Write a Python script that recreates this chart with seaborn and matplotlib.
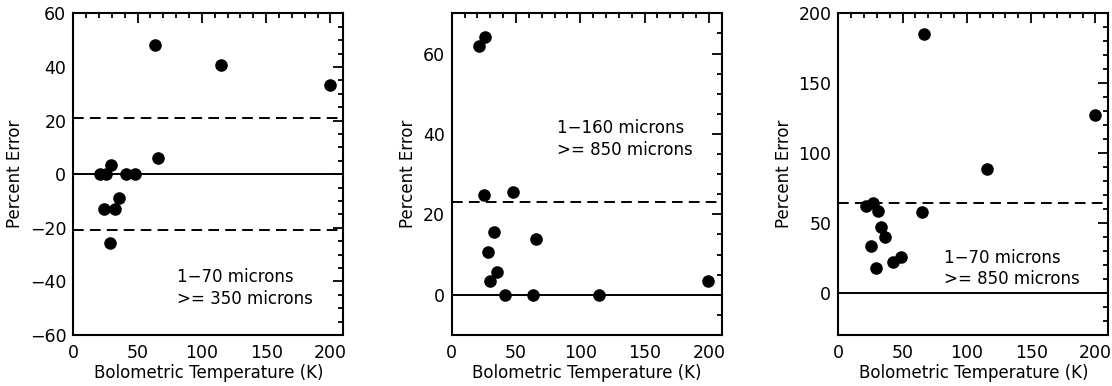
import numpy as np
import pandas as pd
import matplotlib
matplotlib.use("Agg")
import matplotlib.pyplot as plt
import seaborn as sns
from matplotlib.ticker import MultipleLocator

sns.set_theme(style="white")
plt.rcParams['font.family'] = ['DejaVu Sans']

# Panel 1: 1-70 microns, >= 350 microns
tbol_1 = [20.9, 25.6, 24.0, 29.3, 28.2, 32.7, 35.6, 41.3, 47.6, 63.3, 65.9, 115.0, 200.0]
err_1 = [0.0, 0.0, -12.9, 3.4, -25.6, -12.9, -8.9, 0.0, 0.0, 48.0, 5.9, 40.8, 33.4]
band_1 = [21.0, -21.0]
label_1 = "1\u221270 microns\n>= 350 microns"

# Panel 2: 1-160 microns, >= 850 microns
tbol_2 = [21.3, 26.0, 25.5, 47.5, 32.7, 65.5, 28.6, 35.3, 29.9, 41.6, 63.4, 114.5, 199.5]
err_2 = [61.8, 64.1, 24.9, 25.5, 15.6, 13.8, 10.6, 5.7, 3.5, 0.0, 0.0, 0.0, 3.5]
band_2 = [23.0]
label_2 = "1\u2212160 microns\n>= 850 microns"

# Panel 3: 1-70 microns, >= 850 microns
tbol_3 = [21.6, 26.8, 30.7, 65.1, 33.3, 36.5, 25.3, 29.4, 42.4, 49.0, 66.4, 115.9, 200.0]
err_3 = [61.9, 64.3, 58.8, 57.6, 46.9, 40.2, 33.3, 17.9, 21.9, 26.0, 185.2, 89.0, 127.1]
band_3 = [64.3]
label_3 = "1\u221270 microns\n>= 850 microns"

panels = [
    dict(x=tbol_1, y=err_1, band=band_1, label=label_1, ylim=(-60, 60), major=20, minor=5,
         left=73.3, text_xy=(81, -42.5)),
    dict(x=tbol_2, y=err_2, band=band_2, label=label_2, ylim=(-10, 70), major=20, minor=5,
         left=451.7, text_xy=(82, 38.7)),
    dict(x=tbol_3, y=err_3, band=band_3, label=label_3, ylim=(-30, 200), major=50, minor=10,
         left=838.3, text_xy=(82, 17.7)),
]

W, H = 1112, 386
fig = plt.figure(figsize=(W / 100, H / 100), dpi=100)
lw = 1.4
for p in panels:
    ax = fig.add_axes([p['left'] / W, (H - 335) / H, 270 / W, (335 - 13.3) / H])
    df = pd.DataFrame({"Tbol": p['x'], "Err": p['y']})
    ax.axhline(0, color='black', lw=lw, zorder=1)
    for b in p['band']:
        ax.axhline(b, color='black', lw=lw, dashes=(5.5, 3.2), zorder=1)
    sns.scatterplot(data=df, x="Tbol", y="Err", ax=ax, color='black', s=82,
                    edgecolor='black', linewidth=0, zorder=3)
    ax.set_xlim(0, 210)
    ax.set_ylim(*p['ylim'])
    ax.xaxis.set_major_locator(MultipleLocator(50))
    ax.xaxis.set_minor_locator(MultipleLocator(10))
    ax.yaxis.set_major_locator(MultipleLocator(p['major']))
    ax.yaxis.set_minor_locator(MultipleLocator(p['minor']))
    ax.tick_params(which='both', direction='in', top=True, right=True, color='black',
                   width=1.3, labelsize=12.5, labelcolor='black')
    ax.tick_params(which='major', length=7, pad=5)
    ax.tick_params(which='minor', length=3.5)
    ax.tick_params(axis='x', which='major', pad=6.5)
    for s in ax.spines.values():
        s.set_color('black')
        s.set_linewidth(1.5)
    ax.set_xlabel("Bolometric Temperature (K)", fontsize=12, color='black', labelpad=1.5)
    ax.set_ylabel("Percent Error", fontsize=12, color='black', labelpad=4)
    ax.text(p['text_xy'][0], p['text_xy'][1], p['label'], fontsize=12, ha='left',
            va='center', linespacing=1.25, color='black')

fig.savefig("out.png", dpi=100)
